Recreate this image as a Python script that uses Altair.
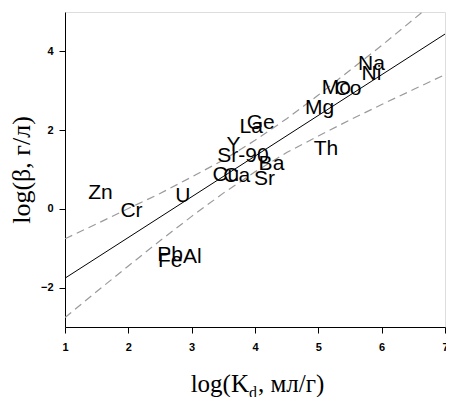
import altair as alt
import pandas as pd

# Element labels and their positions (log Kd, log beta)
elements = ["Zn", "Cr", "U", "Pb", "Fe", "Al", "Cu", "Ca", "Sr", "Sr-90", "Ba", "Y",
            "La", "Ge", "Mg", "Mo", "Co", "Na", "Ni", "Th"]
log_kd = [1.56, 2.05, 2.86, 2.66, 2.66, 3.01, 3.54, 3.71, 4.15, 3.81, 4.26, 3.66,
          3.94, 4.09, 5.02, 5.285, 5.47, 5.84, 5.84, 5.12]
log_beta = [0.41, -0.06, 0.32, -1.18, -1.32, -1.23, 0.86, 0.83, 0.75, 1.34, 1.13, 1.62,
            2.08, 2.19, 2.57, 3.08, 3.04, 3.67, 3.42, 1.53]

# Regression line (endpoints)
fit_x = [1, 7]
fit_y = [-1.76, 4.44]

# Confidence band
band_x = [1, 1.5, 2, 2.5, 3, 3.5, 4, 4.5, 5, 5.5, 6, 6.5, 7]
band_upper = [-0.76, -0.38, 0.01, 0.39, 0.81, 1.24, 1.74, 2.29, 2.89, 3.52, 4.15, 4.81, 5.47]
band_lower = [-2.76, -2.10, -1.45, -0.81, -0.19, 0.40, 0.94, 1.43, 1.85, 2.26, 2.65, 3.03, 3.41]

x_ticks = [1, 2, 3, 4, 5, 6, 7]
y_ticks = [-2, 0, 2, 4]

W, H = 380, 315

xscale = alt.Scale(domain=[1, 7], nice=False, zero=False)
yscale = alt.Scale(domain=[-3, 5], nice=False, zero=False)

xaxis = alt.Axis(values=x_ticks, format="d", title=None, grid=False,
                 labelFont="Liberation Sans", labelFontWeight="bold", labelFontSize=11,
                 labelColor="black", tickColor="black", tickSize=6, labelPadding=8,
                 domainColor="black", labelFlush=False)
yaxis = alt.Axis(values=y_ticks, format="d", title="log(β, г/л)", grid=False,
                 labelFont="Liberation Sans", labelFontWeight="bold", labelFontSize=11,
                 labelColor="black", tickColor="black", tickSize=6, labelPadding=6,
                 domainColor="black",
                 titleFont="Liberation Serif", titleFontSize=26, titleFontWeight="normal",
                 titleColor="black", titleAngle=270, titleX=-44, titleY=H / 2,
                 titleAlign="center", titleBaseline="middle")

fit_df = pd.DataFrame({"x": fit_x, "y": fit_y})
band_df = pd.DataFrame({"x": band_x, "upper": band_upper, "lower": band_lower})
lab_df = pd.DataFrame({"x": log_kd, "y": log_beta, "label": elements})

fit = alt.Chart(fit_df).mark_line(color="black", strokeWidth=1, clip=True).encode(
    x=alt.X("x:Q", scale=xscale, axis=xaxis),
    y=alt.Y("y:Q", scale=yscale, axis=yaxis),
)

upper = alt.Chart(band_df).mark_line(color="#9a9a9a", strokeWidth=1.2, strokeDash=[8, 5], clip=True).encode(
    x=alt.X("x:Q", scale=xscale),
    y=alt.Y("upper:Q", scale=yscale),
)
lower = alt.Chart(band_df).mark_line(color="#9a9a9a", strokeWidth=1.2, strokeDash=[8, 5], clip=True).encode(
    x=alt.X("x:Q", scale=xscale),
    y=alt.Y("lower:Q", scale=yscale),
)

labels = alt.Chart(lab_df).mark_text(font="Liberation Sans", fontSize=21, color="black").encode(
    x=alt.X("x:Q", scale=xscale),
    y=alt.Y("y:Q", scale=yscale),
    text="label:N",
)

# x-axis title with subscript, composed of three text pieces
t1 = alt.Chart(pd.DataFrame({"t": ["log(K"]})).mark_text(
    font="Liberation Serif", fontSize=25, align="right", baseline="alphabetic", color="black"
).encode(text="t:N", x=alt.value(184), y=alt.value(380))
t2 = alt.Chart(pd.DataFrame({"t": ["d"]})).mark_text(
    font="Liberation Serif", fontSize=16, align="left", baseline="alphabetic", color="black"
).encode(text="t:N", x=alt.value(184), y=alt.value(386))
t3 = alt.Chart(pd.DataFrame({"t": [", мл/г)"]})).mark_text(
    font="Liberation Serif", fontSize=25, align="left", baseline="alphabetic", color="black"
).encode(text="t:N", x=alt.value(193), y=alt.value(380))

chart = alt.layer(fit, upper, lower, labels, t1, t2, t3).properties(
    width=W, height=H,
    padding={"left": 57, "top": 4, "right": 1, "bottom": 70},
    autosize=alt.AutoSizeParams(type="none"),
).configure_view(stroke="black", strokeWidth=1).configure(background="white")

chart.save("out.html", embed_options={"renderer": "svg", "actions": False})
